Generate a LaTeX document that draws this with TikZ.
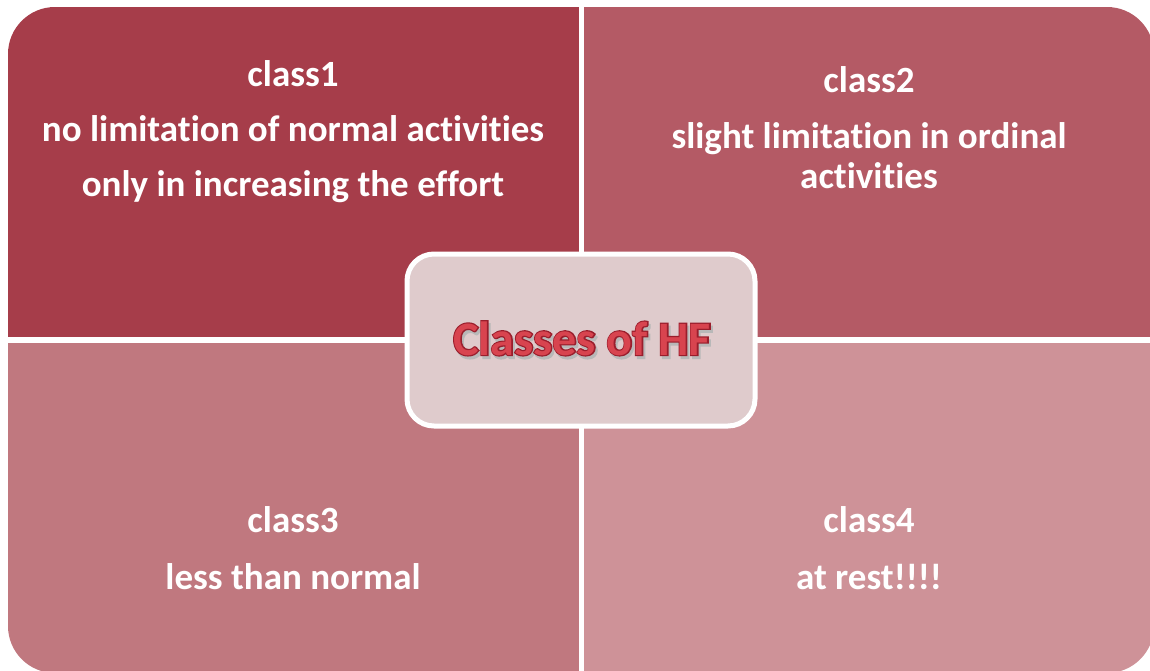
\documentclass[tikz,border=0pt]{standalone}
\usepackage{fontspec}
\setmainfont{Carlito}[Ligatures=NoCommon]
% thickened copy of the bold face, used for the dark rim of the title
\newfontfamily\rimfamily{Carlito}[Ligatures=NoCommon,BoldFeatures={FakeBold=5}]
\definecolor{qone}{HTML}{A63D4A}
\definecolor{qtwo}{HTML}{B45A65}
\definecolor{qthree}{HTML}{C0787F}
\definecolor{qfour}{HTML}{CE9298}
\definecolor{hubfill}{HTML}{DFCBCC}
\definecolor{titlered}{HTML}{D8444F}
\definecolor{titlerim}{HTML}{9A1E2C}
\begin{document}
\begin{tikzpicture}[x=1pt,y=-1pt,
  label/.style={text=white,font=\fontsize{37}{40}\selectfont\bfseries,anchor=base,inner sep=0pt},
  hub/.style={draw=white,line width=5pt,fill=hubfill,rounded corners=27pt},
  titlefont/.style={font=\fontsize{48}{58}\selectfont\bfseries,anchor=base,inner sep=0pt},
  rimfont/.style={font=\rimfamily\fontsize{48}{58}\selectfont\bfseries,anchor=base,inner sep=0pt}]
\path[use as bounding box] (0,0) rectangle (1150,670);

% four quadrants inside one rounded outline
\begin{scope}
  \clip[rounded corners=47pt] (8,7) rectangle (1154,673);
  \fill[qone]   (8,7)     rectangle (579,337);
  \fill[qtwo]   (584,7)   rectangle (1154,337);
  \fill[qthree] (8,343)   rectangle (579,673);
  \fill[qfour]  (584,343) rectangle (1154,673);
\end{scope}

% quadrant texts
\node[label] (c1a) at (293,86)  {class1};
\node[label] (c1b) at (293,141) {no limitation of normal activities};
\node[label] (c1c) at (293,196) {only in increasing the effort};
\node[label] (c2a) at (869,92)  {class2};
\node[label] (c2b) at (869,148) {slight limitation in ordinal};
\node[label] (c2c) at (869,188) {activities};
\node[label] (c3a) at (293,532) {class3};
\node[label] (c3b) at (293,589) {less than normal};
\node[label] (c4a) at (869,532) {class4};
\node[label] (c4b) at (869,589) {at rest!!!!};

% central box
\draw[hub] (407,254) rectangle (755,426);

% title: soft shadow, dark rim, red face
\node[rimfont,text=black!28] (tshadow) at (584,358) {Classes of HF};
\node[rimfont,text=titlerim] (titlerimtext) at (582,355) {Classes of HF};
\node[titlefont,text=titlered] (title) at (582,355) {Classes of HF};
\end{tikzpicture}
\end{document}
